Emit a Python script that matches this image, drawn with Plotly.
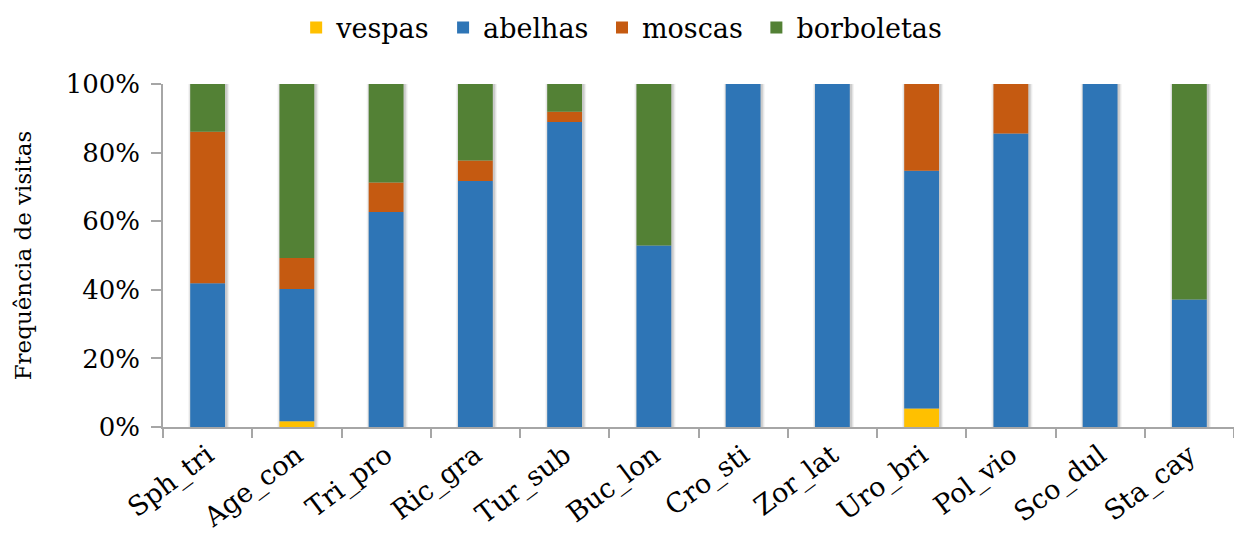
import numpy as np
import plotly.graph_objects as go

# Plant species (abbreviated) and share of visits by each visitor group (%)
categorias = ["Sph_tri", "Age_con", "Tri_pro", "Ric_gra", "Tur_sub", "Buc_lon",
              "Cro_sti", "Zor_lat", "Uro_bri", "Pol_vio", "Sco_dul", "Sta_cay"]
vespas = [0, 1.7, 0, 0, 0, 0, 0, 0, 5.4, 0, 0, 0]
abelhas = [41.9, 38.5, 62.7, 71.7, 88.9, 52.9, 100, 100, 69.3, 85.6, 100, 37.2]
moscas = [44.2, 9.1, 8.6, 6.0, 3.0, 0, 0, 0, 25.3, 14.4, 0, 0]
borboletas = [13.9, 50.7, 28.7, 22.3, 8.1, 47.1, 0, 0, 0, 0, 0, 62.8]

# y-axis ticks
ticks_y = [0, 20, 40, 60, 80, 100]
rotulos_y = ["0%", "20%", "40%", "60%", "80%", "100%"]

grupos = ["vespas", "abelhas", "moscas", "borboletas"]
series = [vespas, abelhas, moscas, borboletas]
cores = ["#FFC000", "#2E75B6", "#C55A11", "#538135"]

FONTE = "DejaVu Serif"
LARGURA = 0.39
NBSP = "\u00a0"  # widens the gap between legend entries

fig = go.Figure()

# soft drop shadow behind each stacked column
total = np.sum(np.array(series, dtype=float), axis=0)
for w, a in [(0.46, 0.05), (0.435, 0.07), (0.415, 0.09)]:
    fig.add_trace(go.Bar(
        x=categorias, y=total + 0.4, base=-0.4, width=w,
        offset=-w / 2 + 0.012,
        marker=dict(color=f"rgba(0,0,0,{a})", line=dict(width=0)),
        showlegend=False, hoverinfo="skip",
    ))

# stacked columns, each segment resting on the cumulative sum below it
base = np.zeros(len(categorias))
for i, (nome, vals, cor) in enumerate(zip(grupos, series, cores)):
    vals = np.array(vals, dtype=float)
    rotulo = nome if i == len(grupos) - 1 else nome + NBSP
    fig.add_trace(go.Bar(
        x=categorias, y=vals, base=base.copy(), name=rotulo, width=LARGURA,
        marker=dict(color=cor, line=dict(width=0)),
    ))
    base += vals

fig.update_layout(
    width=1234, height=540,
    barmode="overlay",
    plot_bgcolor="white", paper_bgcolor="white",
    margin=dict(l=163, r=0, t=84, b=113),
    font=dict(family=FONTE, color="black"),
    legend=dict(
        orientation="h", xref="container", yref="container",
        x=0.24, xanchor="left", y=1 - 28 / 540, yanchor="middle",
        font=dict(size=27, family=FONTE), traceorder="normal",
        bgcolor="rgba(0,0,0,0)",
    ),
    xaxis=dict(
        type="category", range=[-0.5, len(categorias) - 0.5],
        showline=True, linecolor="#A6A6A6", linewidth=1.5,
        ticks="outside", tickson="boundaries", ticklen=9,
        tickcolor="#A6A6A6", tickwidth=1.5,
        tickangle=-37, tickfont=dict(size=27, family=FONTE),
        showgrid=False, zeroline=False,
    ),
    yaxis=dict(
        range=[0, 100], tickvals=ticks_y, ticktext=rotulos_y,
        showline=True, linecolor="#A6A6A6", linewidth=1.5,
        ticks="outside", ticklen=10, tickcolor="#A6A6A6", tickwidth=1.5,
        tickfont=dict(size=26, family=FONTE), ticklabelstandoff=6,
        showgrid=False, zeroline=False,
        title=dict(text="Frequência de visitas", font=dict(size=23, family=FONTE),
                   standoff=28),
    ),
)

fig.write_html("out.html")
